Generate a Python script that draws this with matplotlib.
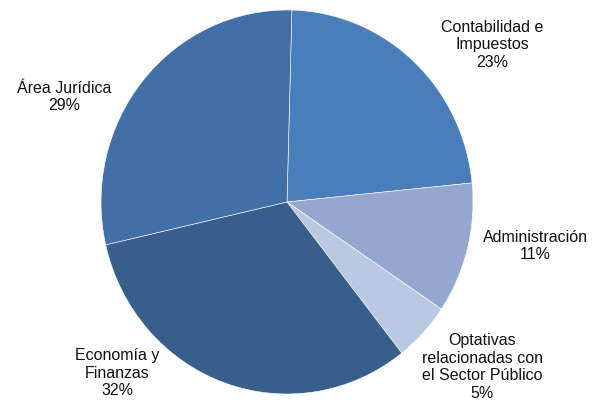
import matplotlib.pyplot as plt

# Data (clockwise from the top)
labels = ["Contabilidad e\nImpuestos", "Administración",
          "Optativas\nrelacionadas con\nel Sector Público",
          "Economía y\nFinanzas", "Área Jurídica"]
values = [23, 11, 5, 32, 29]
colors = ["#4A7EBB", "#93A7CF", "#B9C9E1", "#385F8B", "#416FA6"]

# label centers in pixels (from top-left)
label_pos = [(492, 45), (535, 246), (482, 367), (117, 373), (64, 97)]

plt.rcParams['font.family'] = ['Liberation Sans', 'DejaVu Sans']

fig = plt.figure(figsize=(5.92, 4.04), dpi=100)
ax = fig.add_axes([0, 0, 1, 1])

ax.pie(values, colors=colors, startangle=88.5, counterclock=False,
       wedgeprops=dict(edgecolor="white", linewidth=0.4))

# pie center at (287, 202) px, radius ~186 px horizontal, ~192 px vertical
ax.set_aspect('auto')
ax.set_xlim(-287 / 186, (592 - 287) / 186)
ax.set_ylim(-(404 - 202) / 192, 202 / 192)
ax.axis('off')

total = sum(values)
for lab, v, (px, py) in zip(labels, values, label_pos):
    fig.text(px / 592, 1 - py / 404, "%s\n%d%%" % (lab, round(100 * v / total)),
             ha='center', va='center', fontsize=11.5, linespacing=1.2,
             color='#111111')

fig.savefig("out.png", dpi=100, facecolor='white')
